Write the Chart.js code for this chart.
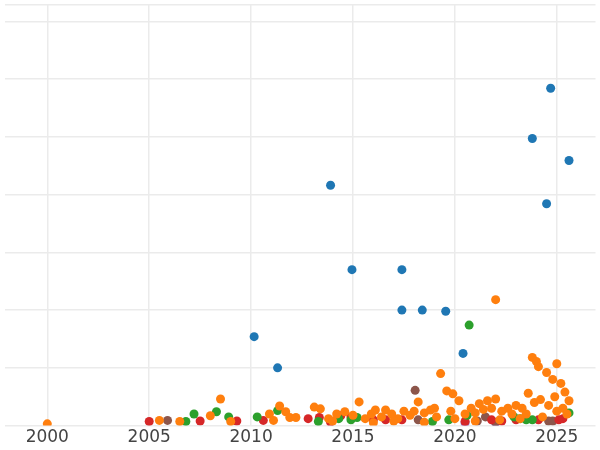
<!DOCTYPE html>
<html>
<head>
<meta charset="utf-8">
<script src="https://cdn.jsdelivr.net/npm/chart.js@4/dist/chart.umd.min.js"></script>
<style>
  html, body { margin: 0; padding: 0; background: #fff; }
  #wrap { width: 600px; height: 450px; }
</style>
</head>
<body>
<div id="wrap"><canvas id="chart"></canvas></div>
<script>
'use strict';

// [year, value] pairs
var bluePoints = [
    [2010.15, 1.54], [2011.3, 1.0], [2013.9, 4.16], [2014.95, 2.70], [2017.4, 2.70],
    [2017.4, 2.0], [2018.4, 2.0], [2019.55, 1.98], [2020.4, 1.25], [2023.8, 4.97],
    [2024.7, 5.84], [2024.5, 3.84], [2025.6, 4.59]
];
var orangePoints = [
    [2000.0, 0.03], [2005.5, 0.09], [2006.5, 0.07], [2008.0, 0.17], [2008.5, 0.46],
    [2009.0, 0.07], [2010.9, 0.2], [2011.4, 0.34], [2011.1, 0.09], [2011.7, 0.24],
    [2011.9, 0.14], [2012.2, 0.14], [2013.1, 0.32], [2013.4, 0.29], [2013.8, 0.12],
    [2014.2, 0.2], [2014.6, 0.24], [2015.0, 0.18], [2015.3, 0.41], [2015.6, 0.12],
    [2015.9, 0.2], [2016.1, 0.27], [2016.4, 0.15], [2016.6, 0.27], [2016.9, 0.2],
    [2017.2, 0.12], [2017.5, 0.25], [2017.8, 0.18], [2018.0, 0.25], [2018.2, 0.41],
    [2018.5, 0.22], [2018.8, 0.27], [2019.0, 0.3], [2019.1, 0.15], [2019.3, 0.9],
    [2019.6, 0.6], [2019.9, 0.55], [2020.2, 0.43], [2019.8, 0.25], [2020.0, 0.12],
    [2020.5, 0.2], [2020.8, 0.3], [2021.0, 0.22], [2021.2, 0.38], [2021.4, 0.28],
    [2021.6, 0.43], [2021.8, 0.3], [2022.0, 0.46], [2022.0, 2.18], [2022.3, 0.25],
    [2022.6, 0.3], [2022.8, 0.2], [2023.0, 0.35], [2023.3, 0.3], [2023.6, 0.56],
    [2023.8, 1.18], [2024.0, 1.11], [2025.0, 1.07], [2024.1, 1.02], [2024.5, 0.92],
    [2024.8, 0.8], [2025.2, 0.73], [2025.4, 0.58], [2025.6, 0.43], [2023.9, 0.4],
    [2024.2, 0.45], [2024.6, 0.35], [2024.9, 0.5], [2025.3, 0.3], [2025.5, 0.2],
    [2023.5, 0.2], [2024.3, 0.15], [2022.2, 0.1], [2021.0, 0.08], [2017.0, 0.08],
    [2014.0, 0.08], [2016.0, 0.05], [2018.5, 0.06], [2025.0, 0.25], [2023.2, 0.12]
];
var greenPoints = [
    [2006.8, 0.07], [2007.2, 0.2], [2008.3, 0.24], [2008.9, 0.15], [2010.3, 0.15],
    [2011.3, 0.26], [2013.3, 0.07], [2014.3, 0.12], [2014.9, 0.1], [2015.2, 0.14],
    [2018.9, 0.07], [2019.7, 0.1], [2020.6, 0.18], [2020.7, 1.74], [2022.9, 0.15],
    [2023.2, 0.12], [2023.5, 0.1], [2023.8, 0.1], [2025.6, 0.22]
];
var redPoints = [
    [2005.0, 0.07], [2007.5, 0.08], [2009.3, 0.08], [2010.6, 0.09], [2012.8, 0.12],
    [2013.35, 0.14], [2013.9, 0.06], [2014.4, 0.17], [2014.9, 0.15], [2016.0, 0.1],
    [2016.6, 0.1], [2017.4, 0.1], [2020.5, 0.07], [2021.8, 0.1], [2022.3, 0.08],
    [2023.0, 0.1], [2024.1, 0.1], [2025.1, 0.1], [2025.3, 0.12]
];
var brownPoints = [
    [2005.9, 0.09], [2018.05, 0.61], [2018.2, 0.1], [2021.1, 0.08], [2021.5, 0.15],
    [2022.0, 0.06], [2024.6, 0.08], [2024.8, 0.08]
];
var purplePoints = [[2020.5, 0.05], [2022.0, 0.05]];
var xTicks = [2000, 2005, 2010, 2015, 2020, 2025];

function toXY(list) {
    return list.map(function (p) { return { x: p[0], y: p[1] }; });
}

var series = [
    { data: orangePoints, color: '#ff7f0e' },
    { data: greenPoints, color: '#2ca02c' },
    { data: redPoints, color: '#d62728' },
    { data: brownPoints, color: '#8c564b' },
    { data: purplePoints, color: '#9467bd' },
    { data: bluePoints, color: '#1f77b4' }
];

new Chart(document.getElementById('chart'), {
    type: 'scatter',
    data: {
        datasets: series.map(function (s) {
            return {
                data: toXY(s.data),
                backgroundColor: s.color,
                borderWidth: 0,
                pointRadius: 4.5,
                pointHoverRadius: 4.5
            };
        })
    },
    options: {
        responsive: true,
        maintainAspectRatio: false,
        animation: false,
        layout: { padding: 0 },
        plugins: { legend: { display: false }, tooltip: { enabled: false } },
        scales: {
            x: {
                min: 1997.9,
                max: 2026.9,
                afterBuildTicks: function (axis) {
                    axis.ticks = xTicks.map(function (v) { return { value: v }; });
                },
                ticks: {
                    color: '#444',
                    font: { family: 'DejaVu Sans', size: 17 },
                    padding: 2,
                    callback: function (v) { return String(v); }
                },
                grid: { color: '#ebebeb', lineWidth: 1.5, drawTicks: false },
                border: { display: false }
            },
            y: {
                min: 0,
                max: 7.29,
                ticks: { display: false, stepSize: 1 },
                grid: { color: '#ebebeb', lineWidth: 1.5, drawTicks: false },
                border: { display: false }
            }
        }
    }
});
</script>
</body>
</html>
